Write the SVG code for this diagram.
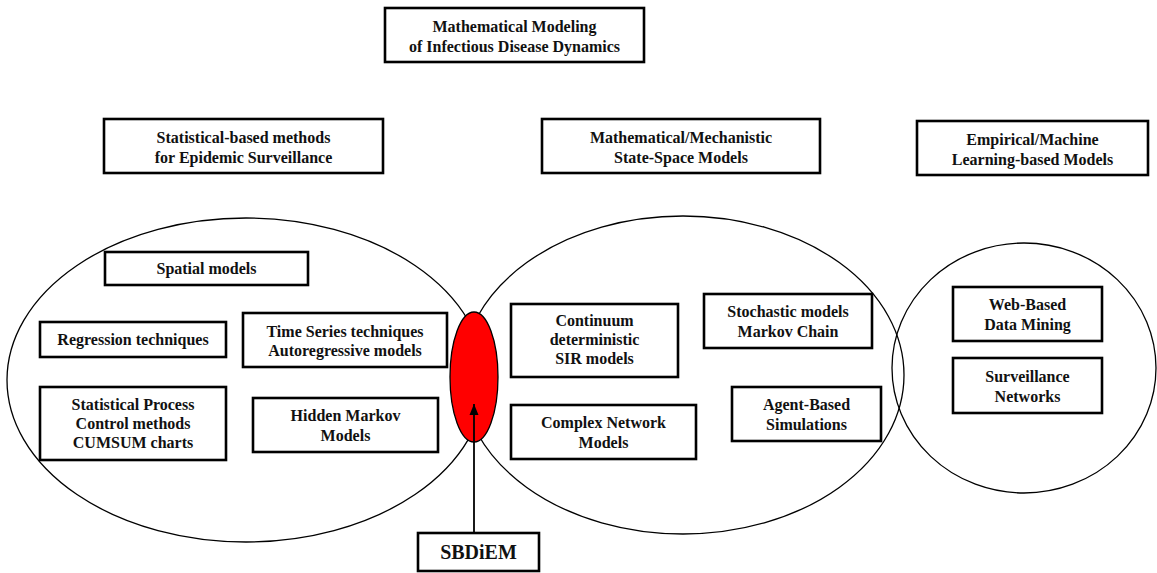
<svg xmlns="http://www.w3.org/2000/svg" width="1157" height="573" viewBox="0 0 1157 573">
<style>
.bx{fill:#fff;stroke:#000;stroke-width:2.6}
.el{fill:none;stroke:#000;stroke-width:1.3}
text{font-family:'Liberation Serif','Times New Roman',Times,serif;font-weight:bold;font-size:16px;text-anchor:middle;fill:#111}
</style>
<defs>
<marker id="ah" markerWidth="12" markerHeight="10" refX="11" refY="5" orient="auto" markerUnits="userSpaceOnUse" viewBox="0 0 12 10">
<path d="M0,0.5 L11,5 L0,9.5 Z" fill="#000"/>
</marker>
</defs>
<rect width="1157" height="573" fill="#fff"/>
<g id="regions">
<ellipse id="left-ellipse" class="el" cx="246" cy="380" rx="239" ry="162"/>
<ellipse id="middle-ellipse" class="el" cx="683" cy="375" rx="221" ry="159"/>
<ellipse id="right-ellipse" class="el" cx="1024" cy="368" rx="132" ry="125"/>
<ellipse id="red-ellipse" cx="474" cy="377" rx="24" ry="65" fill="#ff0000" stroke="#000" stroke-width="1.3"/>
</g>
<g id="title"><rect class="bx" x="385" y="8" width="259" height="54"/><text x="514.5" y="32">Mathematical Modeling</text><text x="514.5" y="52">of Infectious Disease Dynamics</text></g>
<g id="statistical"><rect class="bx" x="104" y="119" width="279" height="54"/><text x="243.5" y="143">Statistical-based methods</text><text x="243.5" y="163">for Epidemic Surveillance</text></g>
<g id="mechanistic"><rect class="bx" x="542" y="119" width="278" height="54"/><text x="681" y="143">Mathematical/Mechanistic</text><text x="681" y="163">State-Space Models</text></g>
<g id="empirical"><rect class="bx" x="917" y="121" width="231" height="54"/><text x="1032.5" y="145">Empirical/Machine</text><text x="1032.5" y="165">Learning-based Models</text></g>
<g id="spatial"><rect class="bx" x="105" y="252" width="203" height="33"/><text x="206.5" y="274">Spatial models</text></g>
<g id="regression"><rect class="bx" x="40" y="322" width="186" height="35"/><text x="133" y="345">Regression techniques</text></g>
<g id="timeseries"><rect class="bx" x="243" y="313" width="204" height="54"/><text x="345" y="337">Time Series techniques</text><text x="345" y="356">Autoregressive models</text></g>
<g id="spc"><rect class="bx" x="40" y="387" width="186" height="73"/><text x="133" y="410">Statistical Process</text><text x="133" y="429">Control methods</text><text x="133" y="448">CUMSUM charts</text></g>
<g id="hmm"><rect class="bx" x="253" y="398" width="185" height="54"/><text x="345.5" y="421">Hidden Markov</text><text x="345.5" y="441">Models</text></g>
<g id="continuum"><rect class="bx" x="511" y="304" width="167" height="73"/><text x="594.5" y="326">Continuum</text><text x="594.5" y="345">deterministic</text><text x="594.5" y="364">SIR models</text></g>
<g id="stochastic"><rect class="bx" x="704" y="294" width="168" height="54"/><text x="788" y="317">Stochastic models</text><text x="788" y="337">Markov Chain</text></g>
<g id="complex"><rect class="bx" x="511" y="405" width="185" height="54"/><text x="603.5" y="428">Complex Network</text><text x="603.5" y="448">Models</text></g>
<g id="agent"><rect class="bx" x="732" y="387" width="149" height="54"/><text x="806.5" y="410">Agent-Based</text><text x="806.5" y="430">Simulations</text></g>
<g id="webbased"><rect class="bx" x="953" y="287" width="149" height="54"/><text x="1027.5" y="310">Web-Based</text><text x="1027.5" y="330">Data Mining</text></g>
<g id="surveillance"><rect class="bx" x="953" y="358" width="149" height="55"/><text x="1027.5" y="382">Surveillance</text><text x="1027.5" y="402">Networks</text></g>
<g id="sbdiem"><rect class="bx" x="418" y="533" width="121" height="38"/><text x="478.5" y="559" style="font-size:20px">SBDiEM</text></g>
<g id="connectors">
<line x1="474" y1="533" x2="474" y2="404" stroke="#000" stroke-width="1.8" marker-end="url(#ah)"/>
</g>
</svg>
